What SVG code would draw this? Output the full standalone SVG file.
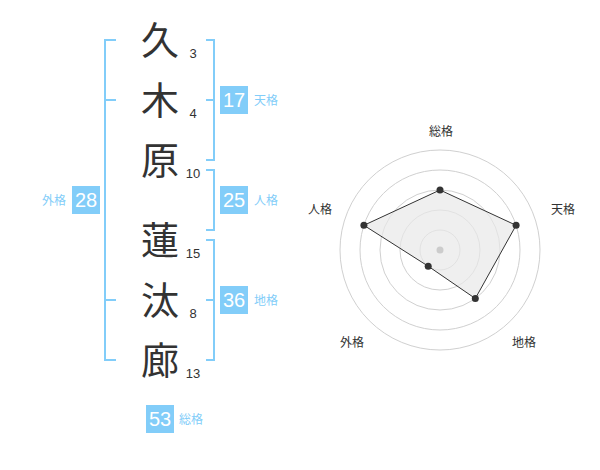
<svg xmlns="http://www.w3.org/2000/svg" width="600" height="470" viewBox="0 0 600 470">
<style>
.kanji{font-family:"Noto Sans CJK JP","Noto Sans CJK SC",sans-serif;font-size:38px;fill:#333;text-anchor:middle}
.stroke{font-family:"Liberation Sans",Arial,sans-serif;font-size:13px;fill:#333;text-anchor:middle}
.br{fill:none;stroke:#82cdf9;stroke-width:2}
.box{fill:#82cdf9}
.num{font-family:"Liberation Sans",Arial,sans-serif;font-size:20px;fill:#fff;text-anchor:middle}
.lbl{font-family:"Noto Sans CJK JP",sans-serif;font-size:12px;fill:#82cdf9}
.ring{fill:none;stroke:#d0d0d0;stroke-width:1}
.rl{font-family:"Noto Sans CJK JP",sans-serif;font-size:12px;fill:#333;text-anchor:middle}
.dot{fill:#333}
</style>
<rect width="600" height="470" fill="#fff"/>
<g id="chars">
<g id="c1"><text class="kanji" x="160" y="54">久</text><text class="stroke" x="193" y="57.5">3</text></g>
<g id="c2"><text class="kanji" x="160" y="114">木</text><text class="stroke" x="193" y="117.5">4</text></g>
<g id="c3"><text class="kanji" x="160" y="174">原</text><text class="stroke" x="193" y="177.5">10</text></g>
<g id="c4"><text class="kanji" x="160" y="254">蓮</text><text class="stroke" x="193" y="257.5">15</text></g>
<g id="c5"><text class="kanji" x="160" y="314">汰</text><text class="stroke" x="193" y="317.5">8</text></g>
<g id="c6"><text class="kanji" x="160" y="374">廊</text><text class="stroke" x="193" y="377.5">13</text></g>
</g>
<g id="connectors">
<path class="br" d="M116,40 H105 V360 H116 M105,100 H116 M105,300 H116"/>
<path class="br" d="M206,40 H214 V160 H206 M206,100 H214"/>
<path class="br" d="M206,170 H214 V230 H206"/>
<path class="br" d="M206,240 H214 V360 H206 M206,300 H214"/>
</g>
<g id="tenkaku"><rect class="box" x="220" y="86" width="28" height="28"/><text class="num" x="234" y="107">17</text><text class="lbl" x="254" y="104.5">天格</text></g>
<g id="jinkaku"><rect class="box" x="220" y="186" width="28" height="28"/><text class="num" x="234" y="207">25</text><text class="lbl" x="254" y="204.5">人格</text></g>
<g id="chikaku"><rect class="box" x="220" y="286" width="28" height="28"/><text class="num" x="234" y="307">36</text><text class="lbl" x="254" y="304.5">地格</text></g>
<g id="gaikaku"><rect class="box" x="72" y="186" width="28" height="28"/><text class="num" x="86" y="207">28</text><text class="lbl" x="66" y="204.5" text-anchor="end">外格</text></g>
<g id="soukaku"><rect class="box" x="146" y="405" width="28" height="28"/><text class="num" x="160" y="426">53</text><text class="lbl" x="179" y="424">総格</text></g>
<g id="radar">
<circle class="ring" cx="440" cy="250" r="20"/>
<circle class="ring" cx="440" cy="250" r="40"/>
<circle class="ring" cx="440" cy="250" r="60"/>
<circle class="ring" cx="440" cy="250" r="80"/>
<circle class="ring" cx="440" cy="250" r="100"/>
<polygon points="440,190 516.1,225.3 475.3,298.5 428.2,266.2 363.9,225.3" fill="#e8e8e8" fill-opacity="0.7" stroke="#333" stroke-width="1"/>
<circle cx="440" cy="250" r="3.5" fill="#ccc"/>
<circle class="dot" cx="440" cy="190" r="3.5"/>
<circle class="dot" cx="516.1" cy="225.3" r="3.5"/>
<circle class="dot" cx="475.3" cy="298.5" r="3.5"/>
<circle class="dot" cx="428.2" cy="266.2" r="3.5"/>
<circle class="dot" cx="363.9" cy="225.3" r="3.5"/>
<text class="rl" x="441" y="135.5">総格</text>
<text class="rl" x="563" y="213.5">天格</text>
<text class="rl" x="524" y="347">地格</text>
<text class="rl" x="352" y="347">外格</text>
<text class="rl" x="320" y="213.5">人格</text>
</g>
</svg>
